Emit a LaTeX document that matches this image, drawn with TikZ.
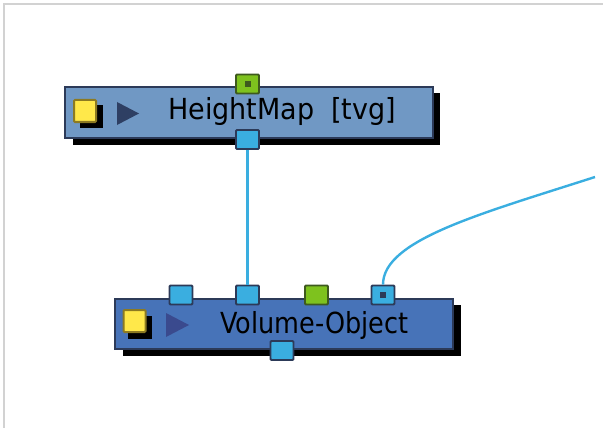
\documentclass[tikz,border=0pt]{standalone}
\usepackage{fontspec}
\setmainfont{DejaVu Sans}
\newfontfamily\hmfont[FakeStretch=0.93]{DejaVu Sans}
\newfontfamily\vofont[FakeStretch=0.88]{DejaVu Sans}
\definecolor{framegray}{HTML}{D2D2D2}
\definecolor{hmfill}{HTML}{7098C4}
\definecolor{vofill}{HTML}{4773B8}
\definecolor{edgec}{HTML}{2C3A58}
\definecolor{portblue}{HTML}{3AAEE0}
\definecolor{portgreen}{HTML}{7EC21E}
\definecolor{greenedge}{HTML}{3E5A1E}
\definecolor{yel}{HTML}{FFE84A}
\definecolor{yeledge}{HTML}{8C7A22}
\definecolor{trihm}{HTML}{2E3F63}
\definecolor{trivo}{HTML}{3A4A8E}
\definecolor{wire}{HTML}{3AAEE0}
\tikzset{
  nodebox/.style={draw=edgec, line width=2pt, rectangle, inner sep=0pt, anchor=north west},
  bport/.style={draw=edgec, fill=portblue, line width=1.8pt, rectangle, rounded corners=1pt, inner sep=0pt, minimum width=23pt, minimum height=19pt},
  gport/.style={bport, draw=greenedge, fill=portgreen},
  dotted port/.style={path picture={\fill[#1, sharp corners] ([xshift=-3pt,yshift=-3pt]path picture bounding box.center) rectangle ++(6pt,6pt);}},
  yicon/.style={draw=yeledge, fill=yel, line width=2pt, rectangle, rounded corners=1pt, inner sep=0pt, minimum size=22pt},
  label text/.style={anchor=base west, inner sep=0pt, text=black},
  wirestyle/.style={draw=wire, line width=2.4pt}
}
\begin{document}
\begin{tikzpicture}[x=1pt,y=-1pt]
\useasboundingbox (0,0) rectangle (603,428);
\draw[framegray, line width=2pt] (4,428) -- (4,4) -- (603,4);

% ---- HeightMap node
\fill[black] (73,93) rectangle (440,145);
\node[nodebox, fill=hmfill, minimum width=368pt, minimum height=51pt] (hm) at (64,86) {};
\fill[black] (90,105) rectangle (103,128);
\fill[black] (80,118) rectangle (103,128);
\node[yicon] (hmicon) at (85,111) {};
\fill[trihm] (117,102) -- (117,125) -- (139,113.5) -- cycle;
\node[label text, font=\hmfont\fontsize{29pt}{32pt}\selectfont] (hmtext) at (168,120) {HeightMap\ \ [tvg]};
\node[gport, dotted port=greenedge] (hmin) at (247.5,84) {};
\node[bport] (hmout) at (247.5,139.5) {};

% ---- Volume-Object node
\fill[black] (123,305) rectangle (461,356);
\node[nodebox, fill=vofill, minimum width=338pt, minimum height=50pt] (vo) at (114,298) {};
\fill[black] (140,316) rectangle (152,339);
\fill[black] (128,328) rectangle (152,339);
\node[yicon] (voicon) at (134.5,321) {};
\fill[trivo] (166,313) -- (166,337) -- (189,325) -- cycle;
\node[label text, font=\vofont\fontsize{29pt}{32pt}\selectfont] (votext) at (220,333) {Volume-Object};
\node[bport] (voa) at (181,295) {};
\node[bport] (vob) at (247.5,295) {};
\node[gport] (voc) at (316.5,295) {};
\node[bport, dotted port=edgec] (vod) at (383,295) {};
\node[bport] (voout) at (282,350.5) {};

% ---- connectors
\coordinate (offright) at (595,177);
\draw[wirestyle] (hmout.south) -- (vob.north);
\draw[wirestyle] (vod.north) .. controls (383,240) and (480,214) .. (offright);
\end{tikzpicture}
\end{document}
